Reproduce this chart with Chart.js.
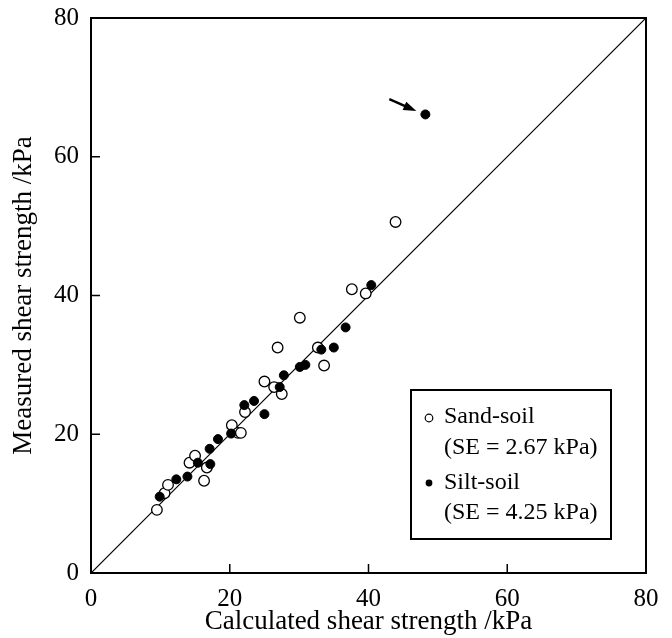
<!DOCTYPE html>
<html>
<head>
<meta charset="utf-8">
<script src="https://cdn.jsdelivr.net/npm/chart.js@4/dist/chart.umd.min.js"></script>
<style>
  html, body { margin: 0; padding: 0; background: #fff; }
  #wrap { width: 672px; height: 638px; }
</style>
</head>
<body>
<div id="wrap"><canvas id="c" width="672" height="638"></canvas></div>
<script>
// ---- data ----
const sandX = [9.5, 10.6, 11.1, 14.2, 15.0, 16.7, 16.3, 20.3, 21.2, 21.6, 22.2, 25.0, 26.4, 27.5, 26.9, 30.1, 32.7, 33.6, 37.6, 39.6, 43.9];
const sandY = [9.1, 11.5, 12.7, 15.9, 16.9, 15.2, 13.3, 21.3, 20.2, 20.2, 23.2, 27.6, 26.8, 25.8, 32.5, 36.8, 32.5, 29.9, 40.9, 40.3, 50.6];
const siltX = [9.9, 12.3, 13.9, 15.4, 17.2, 17.1, 18.3, 20.2, 22.1, 23.5, 25.0, 27.2, 27.8, 30.1, 30.9, 33.2, 35.0, 36.7, 40.4, 48.2];
const siltY = [11.0, 13.5, 13.9, 15.9, 15.7, 17.9, 19.3, 20.1, 24.2, 24.8, 22.9, 26.8, 28.5, 29.7, 30.0, 32.2, 32.5, 35.4, 41.5, 66.1];
const lineX = [0, 80];
const lineY = [0, 80];
const tickValues = [0, 20, 40, 60, 80];
const arrowFrom = [43.0, 68.3];
const arrowTo = [46.9, 66.6];
const legendSand = ["Sand-soil", "(SE = 2.67 kPa)"];
const legendSilt = ["Silt-soil", "(SE = 4.25 kPa)"];
const xTitle = "Calculated shear strength /kPa";
const yTitle = "Measured shear strength /kPa";

const FONT = "'Liberation Serif', 'Times New Roman', serif";

const toPts = (xs, ys) => xs.map((x, i) => ({ x: x, y: ys[i] }));

const framePlugin = {
  id: 'frame',
  afterDatasetsDraw(chart) {
    const ctx = chart.ctx;
    const a = chart.chartArea;
    const xs = chart.scales.x, ys = chart.scales.y;
    ctx.save();
    ctx.strokeStyle = '#000';
    ctx.lineWidth = 2;
    ctx.strokeRect(a.left, a.top, a.right - a.left, a.bottom - a.top);
    // inward ticks
    ctx.lineWidth = 1.5;
    tickValues.slice(1, -1).forEach(v => {
      const px = xs.getPixelForValue(v);
      ctx.beginPath(); ctx.moveTo(px, a.bottom); ctx.lineTo(px, a.bottom - 9); ctx.stroke();
      const py = ys.getPixelForValue(v);
      ctx.beginPath(); ctx.moveTo(a.left, py); ctx.lineTo(a.left + 9, py); ctx.stroke();
    });
    // arrow
    const x1 = xs.getPixelForValue(arrowFrom[0]), y1 = ys.getPixelForValue(arrowFrom[1]);
    const x2 = xs.getPixelForValue(arrowTo[0]), y2 = ys.getPixelForValue(arrowTo[1]);
    const ang = Math.atan2(y2 - y1, x2 - x1);
    const hl = 13, hw = 4.5;
    const bx = x2 - hl * Math.cos(ang), by = y2 - hl * Math.sin(ang);
    ctx.lineWidth = 2.5;
    ctx.beginPath(); ctx.moveTo(x1, y1); ctx.lineTo(bx + 2 * Math.cos(ang), by + 2 * Math.sin(ang)); ctx.stroke();
    ctx.fillStyle = '#000';
    ctx.beginPath();
    ctx.moveTo(x2, y2);
    ctx.lineTo(bx + hw * Math.sin(ang), by - hw * Math.cos(ang));
    ctx.lineTo(bx - hw * Math.sin(ang), by + hw * Math.cos(ang));
    ctx.closePath(); ctx.fill();
    // legend box
    const L = 411, T = 390, R = 611, B = 539;
    ctx.fillStyle = '#fff';
    ctx.fillRect(L, T, R - L, B - T);
    ctx.lineWidth = 2;
    ctx.strokeRect(L, T, R - L, B - T);
    ctx.fillStyle = '#000';
    ctx.font = '24px ' + FONT;
    ctx.textBaseline = 'middle';
    ctx.textAlign = 'left';
    ctx.fillText(legendSand[0], 444, 417);
    ctx.fillText(legendSand[1], 444, 448);
    ctx.fillText(legendSilt[0], 444, 483);
    ctx.fillText(legendSilt[1], 444, 513);
    ctx.lineWidth = 1.2;
    ctx.beginPath(); ctx.arc(429, 418, 3.8, 0, Math.PI * 2); ctx.stroke();
    ctx.beginPath(); ctx.arc(429, 483, 3.4, 0, Math.PI * 2); ctx.fill();
    ctx.restore();
  }
};

new Chart(document.getElementById('c'), {
  type: 'scatter',
  data: {
    datasets: [
      {
        label: 'Silt-soil',
        data: toPts(siltX, siltY),
        pointRadius: 4.5,
        pointBackgroundColor: '#000',
        pointBorderColor: '#000',
        pointBorderWidth: 1,
        order: 0
      },
      {
        label: 'Sand-soil',
        data: toPts(sandX, sandY),
        pointRadius: 5.3,
        pointBackgroundColor: '#fff',
        pointBorderColor: '#000',
        pointBorderWidth: 1.3,
        order: 1
      },
      {
        label: '1:1',
        data: toPts(lineX, lineY),
        showLine: true,
        pointRadius: 0,
        borderColor: '#000',
        borderWidth: 1.2,
        order: 2
      }
    ]
  },
  options: {
    responsive: false,
    animation: false,
    layout: { padding: { left: 0, top: 18, right: 26, bottom: 0 } },
    plugins: { legend: { display: false }, tooltip: { enabled: false } },
    scales: {
      x: {
        type: 'linear', min: 0, max: 80,
        afterBuildTicks: s => { s.ticks = tickValues.map(v => ({ value: v })); },
        afterFit: s => { s.height = 65; s.paddingLeft = 0; s.paddingRight = 0; },
        grid: { display: false, drawTicks: false },
        border: { display: false },
        ticks: { color: '#000', font: { family: FONT, size: 25 }, padding: 11, maxRotation: 0 },
        title: { display: true, text: xTitle, color: '#000', font: { family: FONT, size: 27 }, padding: { top: 3, bottom: 0 } }
      },
      y: {
        type: 'linear', min: 0, max: 80,
        afterBuildTicks: s => { s.ticks = tickValues.map(v => ({ value: v })); },
        afterFit: s => { s.width = 91; s.paddingTop = 0; s.paddingBottom = 0; },
        grid: { display: false, drawTicks: false },
        border: { display: false },
        ticks: { color: '#000', font: { family: FONT, size: 25 }, padding: 12 },
        title: { display: true, text: yTitle, color: '#000', font: { family: FONT, size: 27 }, padding: { top: 8, bottom: 4 } }
      }
    }
  },
  plugins: [framePlugin]
});
</script>
</body>
</html>
